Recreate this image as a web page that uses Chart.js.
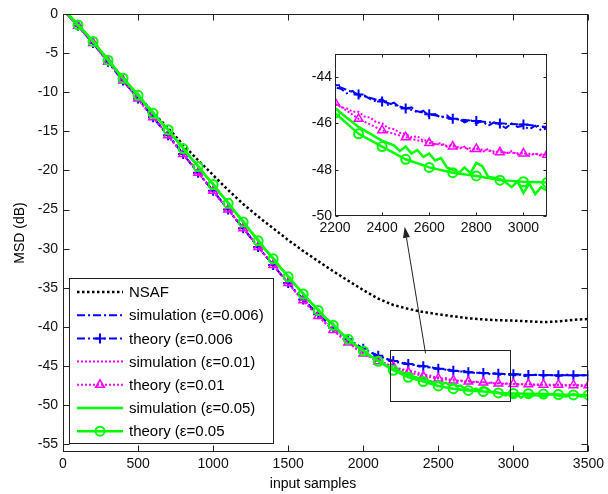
<!DOCTYPE html>
<html><head><meta charset="utf-8">
<script src="https://cdn.jsdelivr.net/npm/chart.js@4.4.0/dist/chart.umd.min.js"></script>
<style>
html,body{margin:0;padding:0;background:#fff;}
#wrap{position:relative;width:608px;height:494px;background:#fff;}
#main{position:absolute;left:0;top:0;}
#inset{position:absolute;left:290px;top:40px;}
</style></head><body>
<div id="wrap">
<canvas id="main" width="608" height="494"></canvas>
<canvas id="inset" width="270" height="200"></canvas>
</div>
<script>
// ---------- data ----------
const theoryX = [0,100,200,300,400,500,600,700,800,900,1000,1100,1200,1300,1400,1500,1600,1700,1800,1900,2000,2100,2200,2300,2400,2500,2600,2700,2800,2900,3000,3100,3200,3300,3400,3500];
const nsafMSD = [0.6,-1.5,-3.6,-5.9,-8.2,-10.4,-12.6,-14.6,-16.7,-18.7,-20.6,-22.5,-24.3,-25.9,-27.4,-28.9,-30.3,-31.6,-32.9,-34.1,-35.3,-36.4,-37.2,-37.7,-38.1,-38.4,-38.65,-38.9,-39.05,-39.15,-39.2,-39.3,-39.4,-39.3,-39.1,-39.0];
const theory006 = [0.6,-1.5,-3.7,-6.1,-8.5,-10.8,-13.2,-15.5,-17.9,-20.3,-22.6,-25.0,-27.4,-29.8,-32.1,-34.4,-36.5,-38.4,-40.1,-41.6,-42.8,-43.7,-44.35,-44.75,-45.05,-45.35,-45.6,-45.8,-45.9,-46.0,-46.05,-46.15,-46.15,-46.2,-46.2,-46.2];
const theory001 = [0.6,-1.5,-3.7,-6.1,-8.5,-10.8,-13.2,-15.5,-17.9,-20.3,-22.6,-25.0,-27.4,-29.8,-32.1,-34.4,-36.6,-38.6,-40.4,-42.0,-43.4,-44.4,-45.1,-45.8,-46.3,-46.6,-46.85,-47.0,-47.1,-47.25,-47.3,-47.35,-47.4,-47.4,-47.45,-47.45];
const theory005 = [0.7,-1.4,-3.5,-5.9,-8.2,-10.4,-12.7,-14.8,-17.2,-19.5,-21.8,-24.2,-26.6,-29.0,-31.3,-33.6,-35.8,-37.9,-39.8,-41.6,-43.1,-44.4,-45.55,-46.45,-47.0,-47.55,-47.9,-48.13,-48.27,-48.45,-48.52,-48.55,-48.6,-48.65,-48.7,-48.7];

const simX = [0,50,100,150,200,250,300,350,400,450,500,550,600,650,700,750,800,850,900,950,1000,1050,1100,1150,1200,1250,1300,1350,1400,1450,1500,1550,1600,1650,1700,1750,1800,1850,1900,1950,2000,2050,2100,2150,
  2200,2225,2250,2275,2300,2325,2350,2375,2400,2425,2450,2475,2500,2525,2550,2575,2600,2625,2650,2675,2700,2725,2750,2775,2800,2825,2850,2875,2900,2925,2950,2975,3000,3025,3050,3075,3100,
  3150,3200,3250,3300,3350,3400,3450,3500];
const sim006 = [0.5,-0.5,-1.6,-2.6,-3.8,-4.9,-6.1,-7.4,-8.5,-9.6,
  -10.9,-12.0,-13.2,-14.4,-15.6,-16.6,-17.9,-19.1,-20.2,-21.5,
  -22.6,-23.8,-24.9,-26.3,-27.3,-28.6,-29.7,-31.0,-32.0,-33.3,
  -34.3,-35.5,-36.4,-37.5,-38.3,-39.3,-40.0,-40.9,-41.5,-42.2,
  -42.8,-43.3,-43.7,-44.1,
  -44.45,-44.5,-44.7,-44.6,-44.85,-44.8,-44.95,-45.05,-44.95,-45.2,
  -45.1,-45.3,-45.35,-45.3,-45.55,-45.45,-45.7,-45.6,-45.75,-45.65,
  -45.85,-45.8,-45.95,-45.85,-46.0,-45.9,-46.1,-45.95,-46.05,-46.2,
  -46.0,-46.15,-46.1,-46.25,-46.1,-46.3,-46.2,
  -46.1,-46.25,-46.15,-46.3,-46.1,-46.25,-46.2,-46.15];
const sim001 = [0.5,-0.6,-1.6,-2.7,-3.8,-5.0,-6.1,-7.3,-8.6,-9.7,
  -10.9,-12.1,-13.3,-14.3,-15.6,-16.8,-17.9,-19.0,-20.3,-21.4,
  -22.7,-23.9,-25.0,-26.2,-27.4,-28.5,-29.8,-30.9,-32.1,-33.2,
  -34.4,-35.6,-36.6,-37.7,-38.6,-39.6,-40.4,-41.3,-42.0,-42.8,
  -43.4,-43.9,-44.4,-44.7,
  -45.15,-45.3,-45.35,-45.5,-45.5,-45.7,-45.75,-45.95,-46.0,-46.2,
  -46.25,-46.4,-46.45,-46.6,-46.55,-46.75,-46.7,-46.9,-46.85,-47.0,
  -46.9,-47.1,-47.0,-47.2,-47.05,-47.25,-47.1,-47.3,-47.15,-47.3,
  -47.2,-47.35,-47.25,-47.4,-47.3,-47.4,-47.3,
  -47.45,-47.35,-47.5,-47.4,-47.5,-47.4,-47.55,-47.45];
const sim005 = [0.6,-0.4,-1.5,-2.4,-3.5,-4.7,-5.8,-7.1,-8.2,-9.3,
  -10.3,-11.6,-12.6,-13.8,-14.8,-16.0,-17.1,-18.4,-19.4,-20.7,
  -21.7,-23.0,-24.1,-25.4,-26.5,-27.8,-28.9,-30.2,-31.2,-32.5,
  -33.5,-34.7,-35.7,-36.9,-37.8,-38.9,-39.7,-40.8,-41.5,-42.4,
  -43.0,-43.8,-44.3,-44.9,
  -45.35,-45.55,-45.75,-45.95,-46.15,-46.3,-46.45,-46.6,-46.75,-46.85,
  -46.95,-47.2,-47.0,-47.3,-47.15,-47.45,-47.3,-47.6,-47.5,-47.9,
  -48.0,-48.15,-47.9,-48.15,-47.7,-47.85,-48.3,-48.35,-48.4,-48.55,
  -48.75,-48.5,-49.0,-48.6,-49.05,-48.75,-48.9,
  -48.7,-48.9,-48.6,-48.8,-48.9,-48.6,-48.9,-48.8];

const xTicks = [0,500,1000,1500,2000,2500,3000,3500];
const yTicks = [0,-5,-10,-15,-20,-25,-30,-35,-40,-45,-50,-55];
const insetXTicks = [2200,2400,2600,2800,3000];
const insetYTicks = [-44,-46,-48,-50];
const legendLabels = ['NSAF','simulation (\u03b5=0.006)','theory (\u03b5=0.006','simulation (\u03b5=0.01)','theory (\u03b5=0.01','simulation (\u03b5=0.05)','theory (\u03b5=0.05'];
const xTitle = 'input samples';
const yTitle = 'MSD (dB)';

// ---------- styles ----------
const FONT = "'Liberation Sans', Arial, sans-serif";
const BLUE='#0000FF', MAG='#FF00FF', GRN='#00FF00';
const series = [
  {x:theoryX, y:nsafMSD,   color:'#000000', dash:[2.5,2.5], width:2.5, marker:null},
  {x:simX,    y:sim006,    color:BLUE, dash:[8,3,2,3], width:2, marker:null},
  {x:theoryX, y:theory006, color:BLUE, dash:[8,3,2,3], width:2, marker:'cross', r:5, mw:2},
  {x:simX,    y:sim001,    color:MAG, dash:[2,2], width:2, marker:null},
  {x:theoryX, y:theory001, color:MAG, dash:[2,2], width:2, marker:'triangle', r:5, mw:1.5},
  {x:simX,    y:sim005,    color:GRN, dash:[], width:2.5, marker:null},
  {x:theoryX, y:theory005, color:GRN, dash:[], width:2.5, marker:'circle', r:4.5, mw:2},
];

function makeDatasets(){
  return series.map((s,i)=>({
    label: legendLabels[i],
    data: s.x.map((xv,j)=>({x:xv, y:s.y[j]})),
    borderColor:s.color, borderWidth:s.width, borderDash:s.dash,
    backgroundColor:'rgba(0,0,0,0)',
    pointStyle: s.marker || 'circle',
    pointRadius: s.marker ? (c=> c.dataIndex===0 ? 0 : s.r) : 0,
    pointBorderColor:s.color, pointBorderWidth:s.mw||1,
    pointBackgroundColor:'rgba(0,0,0,0)',
    pointHoverRadius:0, tension:0, fill:false, order:6-i
  }));
}

function drawMarker(ctx, style, x, y, r, color, lw){
  ctx.save(); ctx.setLineDash([]); ctx.strokeStyle=color; ctx.lineWidth=lw;
  ctx.beginPath();
  if(style==='circle'){ ctx.arc(x,y,r,0,Math.PI*2); }
  else if(style==='cross'){ ctx.moveTo(x-r,y); ctx.lineTo(x+r,y); ctx.moveTo(x,y-r); ctx.lineTo(x,y+r); }
  else if(style==='triangle'){ ctx.moveTo(x,y-r); ctx.lineTo(x+r*0.87,y+r*0.5); ctx.lineTo(x-r*0.87,y+r*0.5); ctx.closePath(); }
  ctx.stroke(); ctx.restore();
}

const framePlugin = {
  id:'frame',
  afterDatasetsDraw(chart, args, o){
    const {ctx, chartArea:a} = chart; const xs=chart.scales.x, ys=chart.scales.y;
    ctx.save(); ctx.setLineDash([]); ctx.strokeStyle='#222'; ctx.lineWidth=1;
    const L=Math.round(a.left)+0.5, R=Math.round(a.right)-0.5, T=Math.round(a.top)+0.5, B=Math.round(a.bottom)-0.5;
    ctx.strokeRect(L,T,R-L,B-T);
    ctx.beginPath();
    o.xt.forEach(v=>{const p=Math.round(xs.getPixelForValue(v))+0.5; ctx.moveTo(p,B); ctx.lineTo(p,B-o.len); ctx.moveTo(p,T); ctx.lineTo(p,T+o.len);});
    o.yt.forEach(v=>{const p=Math.round(ys.getPixelForValue(v))+0.5; ctx.moveTo(L,p); ctx.lineTo(L+o.len,p); ctx.moveTo(R,p); ctx.lineTo(R-o.len,p);});
    ctx.stroke(); ctx.restore();
  }
};

const annotPlugin = {
  id:'annot',
  afterDatasetsDraw(chart){
    const {ctx} = chart; const xs=chart.scales.x, ys=chart.scales.y;
    ctx.save(); ctx.setLineDash([]); ctx.strokeStyle='#222'; ctx.fillStyle='#222'; ctx.lineWidth=1;
    // zoom rectangle (data units)
    const x1=Math.round(xs.getPixelForValue(2175))+0.5, x2=Math.round(xs.getPixelForValue(2980))+0.5;
    const y1=Math.round(ys.getPixelForValue(-43))+0.5, y2=Math.round(ys.getPixelForValue(-49.5))+0.5;
    ctx.strokeRect(x1,y1,x2-x1,y2-y1);
    // arrow
    const ax=xs.getPixelForValue(2415), ay=ys.getPixelForValue(-43.4);
    const tx=xs.getPixelForValue(2276), ty=ys.getPixelForValue(-27.2);
    const ang=Math.atan2(ty-ay, tx-ax), hl=11, hw=3.5;
    const bx=tx-hl*Math.cos(ang), by=ty-hl*Math.sin(ang);
    ctx.beginPath(); ctx.moveTo(ax,ay); ctx.lineTo(bx,by); ctx.stroke();
    ctx.beginPath(); ctx.moveTo(tx,ty);
    ctx.lineTo(bx+hw*Math.sin(ang), by-hw*Math.cos(ang));
    ctx.lineTo(bx-hw*Math.sin(ang), by+hw*Math.cos(ang));
    ctx.closePath(); ctx.fill();
    ctx.restore();
  },
  afterDraw(chart){
    const {ctx, chartArea:a} = chart;
    ctx.save();
    ctx.fillStyle='#000';
    ctx.font='14px '+FONT;
    ctx.textAlign='center'; ctx.textBaseline='middle';
    ctx.fillText(xTitle, 313, 484);
    ctx.save(); ctx.translate(20,(a.top+a.bottom)/2); ctx.rotate(-Math.PI/2);
    ctx.fillText(yTitle,0,0); ctx.restore();
    // legend
    const lx=69.5, ly=278.5, lw=204, lh=165;
    ctx.fillStyle='#fff'; ctx.fillRect(lx,ly,lw,lh);
    ctx.strokeStyle='#222'; ctx.lineWidth=1; ctx.strokeRect(lx,ly,lw,lh);
    ctx.font='15px '+FONT; ctx.textAlign='left';
    series.forEach((s,i)=>{
      const yy = 292 + i*23.2;
      ctx.save(); ctx.strokeStyle=s.color; ctx.lineWidth=s.width; ctx.setLineDash(s.dash);
      ctx.beginPath(); ctx.moveTo(77,yy); ctx.lineTo(123,yy); ctx.stroke(); ctx.restore();
      if(s.marker) drawMarker(ctx, s.marker, 100, yy, s.r, s.color, s.mw);
      ctx.fillStyle='#000'; ctx.fillText(legendLabels[i], 129, yy+1);
    });
    ctx.restore();
  }
};

Chart.defaults.font.family = FONT;
const tickFont = {family:FONT, size:14};

new Chart(document.getElementById('main'), {
  type:'line',
  data:{datasets: makeDatasets()},
  options:{
    responsive:false, devicePixelRatio:1, animation:false, events:[],
    layout:{padding:{left:0,right:17,top:14,bottom:0}},
    plugins:{legend:{display:false}, tooltip:{enabled:false}, frame:{len:6, xt:xTicks, yt:yTicks}},
    scales:{
      x:{type:'linear', min:0, max:3500, grid:{display:false, drawTicks:false}, border:{display:false},
         ticks:{font:tickFont, color:'#111', padding:4, autoSkip:false, maxRotation:0, callback:v=>String(v)},
         afterBuildTicks:s=>{s.ticks = xTicks.map(v=>({value:v}));},
         afterFit:s=>{s.height=42;}},
      y:{type:'linear', min:-56, max:0, grid:{display:false, drawTicks:false}, border:{display:false},
         ticks:{font:tickFont, color:'#111', padding:5, autoSkip:false, callback:v=>String(v)},
         afterBuildTicks:s=>{s.ticks = yTicks.map(v=>({value:v}));},
         afterFit:s=>{s.width=63;}}
    }
  },
  plugins:[framePlugin, annotPlugin]
});

new Chart(document.getElementById('inset'), {
  type:'line',
  data:{datasets: makeDatasets()},
  options:{
    responsive:false, devicePixelRatio:1, animation:false, events:[],
    layout:{padding:{left:0,right:13,top:14,bottom:0}},
    plugins:{legend:{display:false}, tooltip:{enabled:false}, frame:{len:3, xt:insetXTicks, yt:insetYTicks}},
    scales:{
      x:{type:'linear', min:2200, max:3100, grid:{display:false, drawTicks:false}, border:{display:false},
         ticks:{font:tickFont, color:'#111', padding:4, autoSkip:false, maxRotation:0, callback:v=>String(v)},
         afterBuildTicks:s=>{s.ticks = insetXTicks.map(v=>({value:v}));},
         afterFit:s=>{s.height=24;}},
      y:{type:'linear', min:-50, max:-43, grid:{display:false, drawTicks:false}, border:{display:false},
         ticks:{font:tickFont, color:'#111', padding:3, autoSkip:false, callback:v=>String(v)},
         afterBuildTicks:s=>{s.ticks = insetYTicks.map(v=>({value:v}));},
         afterFit:s=>{s.width=45;}}
    }
  },
  plugins:[framePlugin]
});
</script>
</body></html>
